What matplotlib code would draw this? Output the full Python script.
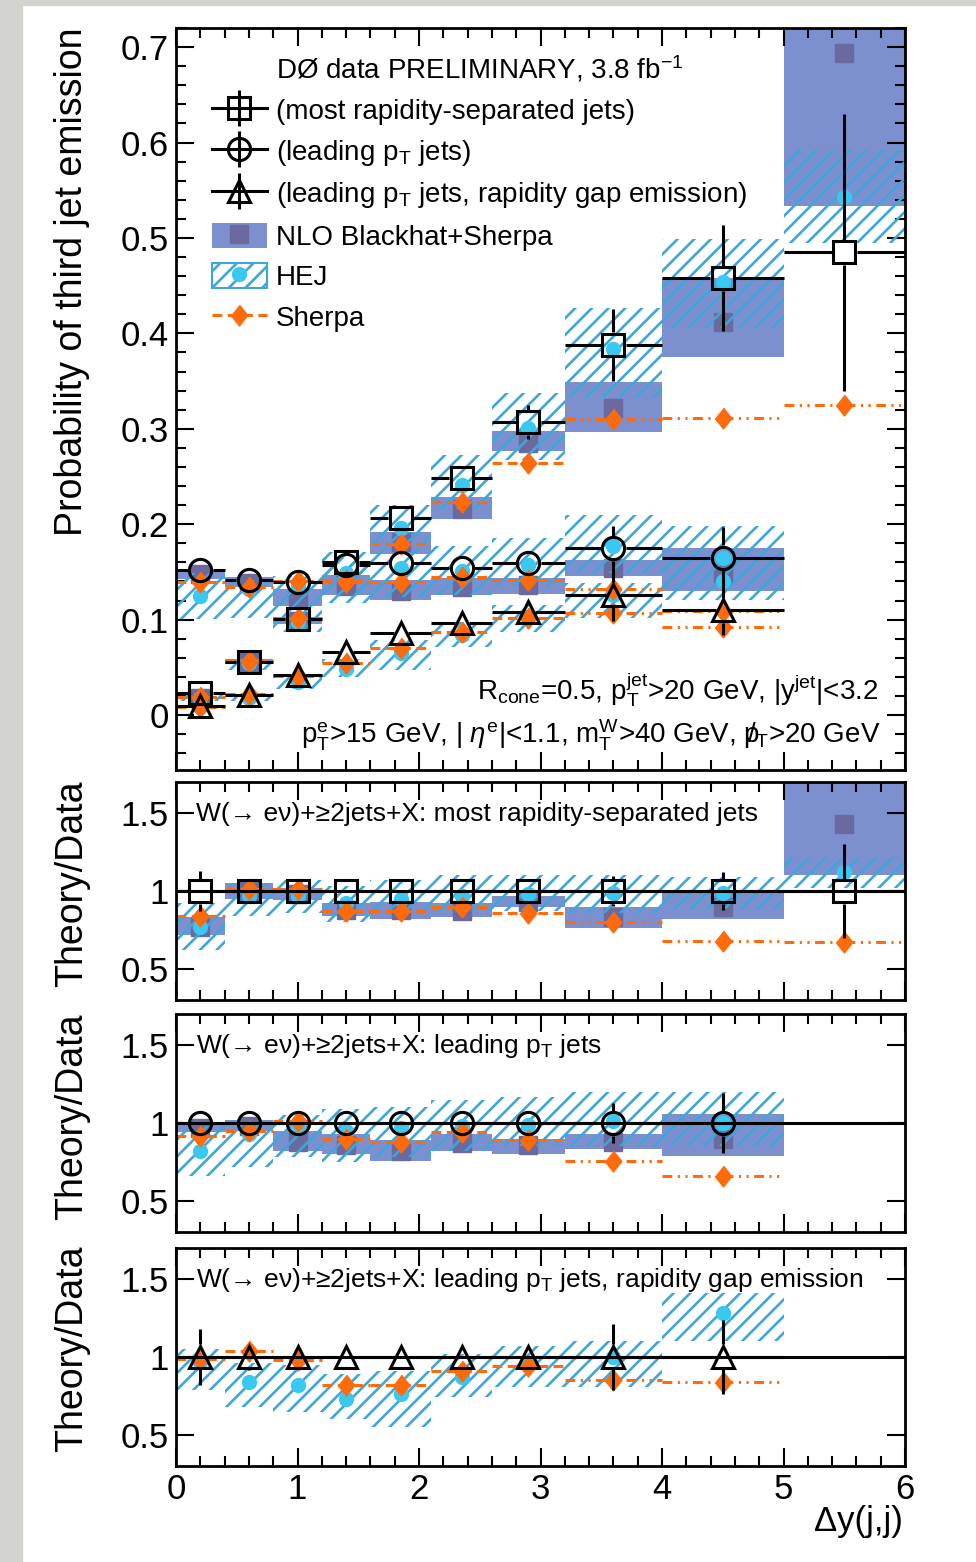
import numpy as np
import matplotlib
matplotlib.use('Agg')
import matplotlib.pyplot as plt
from matplotlib.patches import Rectangle, Patch
from matplotlib.lines import Line2D
from matplotlib.ticker import MultipleLocator, FixedLocator, FuncFormatter

plt.rcParams['font.family'] = ['Liberation Sans', 'DejaVu Sans']
plt.rcParams['mathtext.fontset'] = 'custom'
plt.rcParams['mathtext.rm'] = 'Liberation Sans'
plt.rcParams['mathtext.it'] = 'Liberation Sans:italic'
plt.rcParams['mathtext.bf'] = 'Liberation Sans:bold'
plt.rcParams['hatch.linewidth'] = 1.9

# bins in delta y(j,j)
edges = [0, 0.4, 0.8, 1.2, 1.6, 2.1, 2.6, 3.2, 4.0, 5.0, 6.0]
centers = [0.2, 0.6, 1.0, 1.4, 1.85, 2.35, 2.9, 3.6, 4.5, 5.5]

# most rapidity-separated jets (squares)
sq_data = [0.023, 0.056, 0.101, 0.160, 0.206, 0.248, 0.307, 0.388, 0.458, 0.485]
sq_err = [0.003, 0.004, 0.005, 0.006, 0.008, 0.009, 0.018, 0.038, 0.056, 0.145]
sq_nlo = [0.77, 1.00, 0.98, 0.88, 0.88, 0.87, 0.93, 0.83, 0.90, 1.43]
sq_nlo_lo = [0.72, 0.95, 0.94, 0.84, 0.82, 0.83, 0.90, 0.765, 0.82, 1.10]
sq_nlo_hi = [0.83, 1.05, 1.02, 0.92, 0.93, 0.92, 0.97, 0.90, 1.00, 1.85]
sq_hej = [0.77, 0.97, 0.97, 0.92, 0.95, 0.97, 0.98, 0.99, 0.99, 1.12]
sq_hej_lo = [0.62, 0.84, 0.86, 0.80, 0.86, 0.87, 0.87, 0.86, 0.885, 1.02]
sq_hej_hi = [0.92, 1.05, 1.07, 1.03, 1.07, 1.10, 1.10, 1.10, 1.09, 1.22]
sq_sherpa = [0.84, 1.01, 1.01, 0.87, 0.87, 0.90, 0.86, 0.80, 0.68, 0.67]

# leading pT jets (circles)
ci_data = [0.152, 0.1415, 0.139, 0.157, 0.159, 0.154, 0.159, 0.175, 0.165]
ci_err = [0.004, 0.004, 0.004, 0.005, 0.005, 0.006, 0.008, 0.023, 0.032]
ci_nlo = [0.97, 0.98, 0.88, 0.86, 0.82, 0.87, 0.86, 0.88, 0.90]
ci_nlo_lo = [0.94, 0.95, 0.82, 0.80, 0.755, 0.82, 0.80, 0.83, 0.79]
ci_nlo_hi = [1.00, 1.02, 0.95, 0.93, 0.89, 0.93, 0.90, 0.93, 1.06]
ci_hej = [0.82, 0.93, 0.97, 0.95, 0.97, 0.98, 0.99, 1.01, 1.00]
ci_hej_lo = [0.66, 0.72, 0.78, 0.75, 0.78, 0.82, 0.85, 0.85, 0.85]
ci_hej_hi = [0.98, 1.00, 1.05, 1.09, 1.10, 1.15, 1.17, 1.20, 1.20]
ci_sherpa = [0.915, 0.95, 1.01, 0.90, 0.88, 0.94, 0.89, 0.755, 0.66]

# leading pT jets, rapidity gap emission (triangles)
tr_data = [0.009, 0.021, 0.042, 0.066, 0.086, 0.096, 0.108, 0.126, 0.110]
tr_err = [0.0016, 0.0017, 0.002, 0.003, 0.003, 0.004, 0.005, 0.027, 0.026]
tr_hej = [0.97, 0.84, 0.82, 0.73, 0.76, 0.87, 0.95, 1.00, 1.28]
tr_hej_lo = [0.79, 0.68, 0.65, 0.60, 0.55, 0.74, 0.81, 0.81, 1.10]
tr_hej_hi = [1.05, 0.96, 0.95, 0.89, 0.91, 1.02, 1.07, 1.10, 1.41]
tr_sherpa = [0.99, 1.04, 0.98, 0.82, 0.82, 0.91, 0.94, 0.85, 0.84]

BLUE = '#7c90d0'
DARK = '#6a6a9f'
HATCH = '#3fa6da'
CYAN = '#38c8f2'
ORANGE = '#ff6a0a'
DASH = (0, (3.2, 1.8))
DASHDOT = (0, (3.2, 1.8, 0.7, 1.8, 0.7, 1.8))
DIAMOND = [(0, 1), (0.8, 0), (0, -1), (-0.8, 0)]

W, H = 976, 1562
fig = plt.figure(figsize=(W / 100, H / 100), dpi=100)
fig.patches.append(Rectangle((0, 0), 22 / W, 1, transform=fig.transFigure,
                             color='#d4d4cf', zorder=-10))
fig.patches.append(Rectangle((0, 1 - 5 / H), 1, 5 / H, transform=fig.transFigure,
                             color='#d4d4cf', zorder=-10))


def ax_rect(top, bot):
    return [176 / W, 1 - bot / H, (905 - 176) / W, (bot - top) / H]


ax0 = fig.add_axes(ax_rect(28, 770))
ax1 = fig.add_axes(ax_rect(782, 1000))
ax2 = fig.add_axes(ax_rect(1014, 1232))
ax3 = fig.add_axes(ax_rect(1248, 1466))
axes = [ax0, ax1, ax2, ax3]

ax0.set_ylim(-0.0576, 0.72)
for ax in axes:
    ax.set_xlim(0, 6)
    ax.xaxis.set_major_locator(MultipleLocator(1))
    ax.xaxis.set_minor_locator(MultipleLocator(0.2))
    ax.tick_params(which='both', direction='in', top=True, right=True,
                   width=1.5, labelsize=25, pad=5)
    ax.tick_params(which='major', length=13)
    ax.tick_params(which='minor', length=7)
    for s in ax.spines.values():
        s.set_linewidth(2)
        s.set_zorder(10)
for ax in axes[1:]:
    ax.set_ylim(0.3, 1.7)
    ax.yaxis.set_major_locator(FixedLocator([0.5, 1.0, 1.5]))
    ax.yaxis.set_major_formatter(FuncFormatter(lambda v, p: '%g' % v))
    ax.axhline(1.0, color='k', lw=2.2, zorder=4)
for ax in axes[:3]:
    ax.tick_params(labelbottom=False)
ax0.yaxis.set_major_locator(MultipleLocator(0.1))
ax0.yaxis.set_minor_locator(MultipleLocator(0.02))
ax0.yaxis.set_major_formatter(FuncFormatter(lambda v, p: '0' if abs(v) < 1e-9 else '%.1f' % v))


def boxes(ax, lo, hi, **kw):
    for i in range(len(lo)):
        ax.add_patch(Rectangle((edges[i], lo[i]), edges[i + 1] - edges[i],
                               hi[i] - lo[i], **kw))


def draw_theory(ax, scale, nlo, nlo_lo, nlo_hi, hej, hej_lo, hej_hi, sherpa):
    n = len(hej)
    s = np.asarray(scale[:n]) if scale is not None else np.ones(n)
    x = centers[:n]
    if nlo is not None:
        boxes(ax, np.array(nlo_lo) * s, np.array(nlo_hi) * s,
              facecolor=BLUE, edgecolor='none', lw=0, zorder=1)
        ax.plot(x, np.array(nlo) * s, ls='none', marker='s', ms=13,
                color=DARK, zorder=1.5)
    boxes(ax, np.array(hej_lo) * s, np.array(hej_hi) * s,
          facecolor='none', edgecolor=HATCH, hatch='//', lw=0, zorder=2)
    ax.plot(x, np.array(hej) * s, ls='none', marker='o', ms=10,
            color=CYAN, zorder=2.5)
    y = np.array(sherpa) * s
    for i in range(n):
        ls = DASH if edges[i] < 3.2 else DASHDOT
        ax.plot([edges[i], edges[i + 1]], [y[i], y[i]], color=ORANGE,
                lw=2.2, ls=ls, zorder=3)
    ax.plot(x, y, ls='none', marker=DIAMOND, ms=15, color=ORANGE, zorder=3.5)


def draw_data(ax, y, e, marker):
    n = len(y)
    p0 = ax.transData.transform((0, 0))
    p1 = ax.transData.transform((1, 1))
    ppx, ppy = p1[0] - p0[0], p1[1] - p0[1]
    gxp = 7.0 if marker == '^' else 12.5
    gx, gy = gxp / ppx, 12.5 / ppy
    kw = dict(color='k', lw=2.2, zorder=4.5, solid_capstyle='butt')
    for i in range(n):
        x = centers[i]
        ax.plot([edges[i], x - gx], [y[i], y[i]], **kw)
        ax.plot([x + gx, edges[i + 1]], [y[i], y[i]], **kw)
        if e[i] > gy:
            ax.plot([x, x], [y[i] - e[i], y[i] - gy], **kw)
            ax.plot([x, x], [y[i] + gy, y[i] + e[i]], **kw)
    ax.plot(centers[:n], y, ls='none', marker=marker, ms=16, mfc='none',
            mec='k', mew=2.2, zorder=5)


# main panel
draw_theory(ax0, sq_data, sq_nlo, sq_nlo_lo, sq_nlo_hi, sq_hej, sq_hej_lo, sq_hej_hi, sq_sherpa)
draw_theory(ax0, ci_data, ci_nlo, ci_nlo_lo, ci_nlo_hi, ci_hej, ci_hej_lo, ci_hej_hi, ci_sherpa)
draw_theory(ax0, tr_data, None, None, None, tr_hej, tr_hej_lo, tr_hej_hi, tr_sherpa)
draw_data(ax0, sq_data, sq_err, 's')
draw_data(ax0, ci_data, ci_err, 'o')
draw_data(ax0, tr_data, tr_err, '^')

# ratio panels
draw_theory(ax1, None, sq_nlo, sq_nlo_lo, sq_nlo_hi, sq_hej, sq_hej_lo, sq_hej_hi, sq_sherpa)
draw_data(ax1, np.ones(len(sq_data)), np.array(sq_err) / np.array(sq_data), 's')
draw_theory(ax2, None, ci_nlo, ci_nlo_lo, ci_nlo_hi, ci_hej, ci_hej_lo, ci_hej_hi, ci_sherpa)
draw_data(ax2, np.ones(len(ci_data)), np.array(ci_err) / np.array(ci_data), 'o')
draw_theory(ax3, None, None, None, None, tr_hej, tr_hej_lo, tr_hej_hi, tr_sherpa)
draw_data(ax3, np.ones(len(tr_data)), np.array(tr_err) / np.array(tr_data), '^')

# legend
vbar = dict(ls='none', marker='|', ms=26, mec='k', mew=2.2)
mk = dict(color='k', lw=2.2, ms=16, mfc='none', mec='k', mew=2.2)
handles = [
    Line2D([], [], ls='none'),
    (Line2D([], [], marker='s', **mk), Line2D([], [], **vbar)),
    (Line2D([], [], marker='o', **mk), Line2D([], [], **vbar)),
    (Line2D([], [], marker='^', **mk), Line2D([], [], **vbar)),
    (Patch(facecolor=BLUE, edgecolor='none'),
     Line2D([], [], ls='none', marker='s', ms=13, color=DARK)),
    (Patch(facecolor='none', edgecolor=HATCH, hatch='//', lw=1.5),
     Line2D([], [], ls='none', marker='o', ms=10, color=CYAN)),
    Line2D([], [], color=ORANGE, lw=2.2, ls=DASH, marker=DIAMOND, ms=15),
]
labels = [
    'DØ data PRELIMINARY, 3.8 fb$^{\\rm{-}1}$',
    '(most rapidity-separated jets)',
    '(leading p$_{\\rm T}$ jets)',
    '(leading p$_{\\rm T}$ jets, rapidity gap emission)',
    'NLO Blackhat+Sherpa',
    'HEJ',
    'Sherpa',
]
ax0.legend(handles, labels, loc='upper left', bbox_to_anchor=(0.049, 0.965),
           frameon=False, fontsize=20, handlelength=2.0, handleheight=1.0,
           handletextpad=0.3, labelspacing=0.45, borderaxespad=0, borderpad=0,
           numpoints=1)

ax0.text(0.963, 0.108, 'R$_{\\rm cone}$=0.5, p$_{\\rm T}^{\\rm jet}$>20 GeV, |y$^{\\rm jet}$|<3.2',
         transform=ax0.transAxes, ha='right', va='center', fontsize=20)
ax0.text(0.966, 0.047,
         'p$_{\\rm T}^{\\rm e}$>15 GeV, | $\\eta^{\\rm e}$|<1.1, m$_{\\rm T}^{\\rm W}$>40 GeV, '
         '$\\rm p\\!\\!\\!/_{T}$>20 GeV',
         transform=ax0.transAxes, ha='right', va='center', fontsize=20)

titles = ['W(→ eν)+≥2jets+X: most rapidity-separated jets',
          'W(→ eν)+≥2jets+X: leading p$_{\\rm T}$ jets',
          'W(→ eν)+≥2jets+X: leading p$_{\\rm T}$ jets, rapidity gap emission']
for ax, t in zip(axes[1:], titles):
    ax.text(0.027, 0.855, t, transform=ax.transAxes, ha='left', va='center', fontsize=19)

fig.text(72 / W, 1 - 28 / H, 'Probability of third jet emission', rotation=90,
         ha='center', va='top', fontsize=27)
for top in [780, 1014, 1246]:
    fig.text(72 / W, 1 - top / H, 'Theory/Data', rotation=90,
             ha='center', va='top', fontsize=27)
fig.text(903 / W, 1 - 1522 / H, 'Δy(j,j)', ha='right', va='center', fontsize=25)

fig.savefig('out.png', dpi=100, facecolor='white')
